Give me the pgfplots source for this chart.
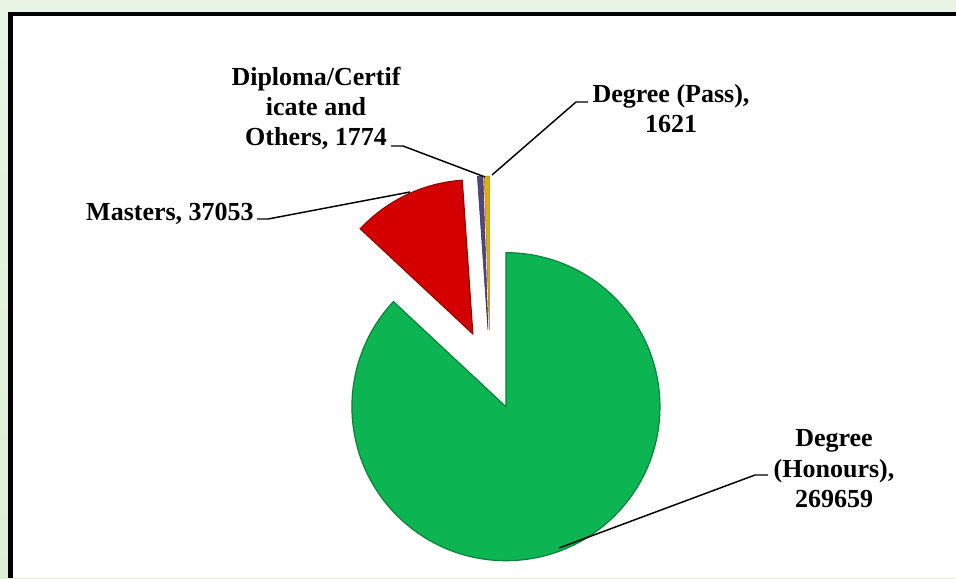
\documentclass[border=0pt]{standalone}
\usepackage{pgfplots}
\pgfplotsset{compat=1.18}
\usepackage{pgfplotstable}
\usepackage{fontspec}
\setmainfont{Liberation Serif}
\usetikzlibrary{calc}
\definecolor{bgtop}{HTML}{EAF4E5}
\definecolor{bgbot}{HTML}{DCEFD5}
\definecolor{cHon}{HTML}{0DB552}
\definecolor{cMas}{HTML}{D40000}
\definecolor{cDip}{HTML}{54457A}
\definecolor{cPas}{HTML}{E6AC00}

\pgfplotstableread[col sep=comma]{
category,value
Degree (Honours),269659
Masters,37053
Diploma/Certificate and Others,1774
Degree (Pass),1621
}\piedata
\pgfplotstablegetelem{0}{value}\of\piedata\edef\vA{\pgfplotsretval}
\pgfplotstablegetelem{1}{value}\of\piedata\edef\vB{\pgfplotsretval}
\pgfplotstablegetelem{2}{value}\of\piedata\edef\vC{\pgfplotsretval}
\pgfplotstablegetelem{3}{value}\of\piedata\edef\vD{\pgfplotsretval}
\edef\tot{\fpeval{\vA+\vB+\vC+\vD}}
\edef\eA{\fpeval{90-360*\vA/\tot}}
\edef\eB{\fpeval{\eA-360*\vB/\tot}}
\edef\eC{\fpeval{\eB-360*\vC/\tot}}
\edef\eD{\fpeval{\eC-360*\vD/\tot}}
\edef\mA{\fpeval{(90+\eA)/2}}
\edef\mB{\fpeval{(\eA+\eB)/2}}
\edef\mC{\fpeval{(\eB+\eC)/2}}
\edef\mD{\fpeval{(\eC+\eD)/2}}
\def\R{115.5pt}
\def\X{30pt}

\begin{document}%
\begin{tikzpicture}[lbl/.style={font=\bfseries\fontsize{19.5}{22}\selectfont, inner sep=0pt, text=black}]
\begin{axis}[
  width=717pt, height=433.5pt, scale only axis,
  xmin=0, xmax=956, ymin=0, ymax=578, y dir=reverse,
  hide axis, clip=true,
]
% background
\fill[top color=bgtop, bottom color=bgbot] (axis cs:0,0) rectangle (axis cs:956,578);
\fill[white] (axis cs:12.5,16) rectangle (axis cs:956,578);
\draw[black, line width=3.4pt] (axis cs:10.5,578) -- (axis cs:10.5,14) -- (axis cs:956,14);
% slices
\fill[cHon, draw=cHon!72!black, line width=0.9pt] ($(axis cs:490,370)+(\mA:\X)$) -- ++(90:\R) arc[start angle=90, end angle=\eA, radius=\R] -- cycle;
\fill[cMas, draw=cMas!72!black, line width=0.9pt] ($(axis cs:490,370)+(\mB:\X)$) -- ++(\eA:\R) arc[start angle=\eA, end angle=\eB, radius=\R] -- cycle;
\fill[cDip, draw=cDip!72!black, line width=0.4pt] ($(axis cs:490,370)+(\mC:\X)$) -- ++(\eB:\R) arc[start angle=\eB, end angle=\eC, radius=\R] -- cycle;
\fill[cPas, draw=cPas!72!black, line width=0.4pt] ($(axis cs:490,370)+(\mD:\X)$) -- ++(\eC:\R) arc[start angle=\eC, end angle=\eD, radius=\R] -- cycle;
% leader lines
\draw[black, line width=1.1pt] (axis cs:257,219) -- (axis cs:268,219) -- (axis cs:410,192);
\draw[black, line width=1.1pt] (axis cs:391,146) -- (axis cs:403,146) -- (axis cs:485,177);
\draw[black, line width=1.1pt] (axis cs:588,102) -- (axis cs:576,102) -- (axis cs:492,175);
\draw[black, line width=1.1pt] (axis cs:768,475) -- (axis cs:755,475) -- (axis cs:559,548);
% labels
\node[lbl, anchor=base east] at (axis cs:254,220) {Masters, 37053};
\node[lbl, anchor=base] at (axis cs:316,85) {Diploma/Certif};
\node[lbl, anchor=base] at (axis cs:316,115) {icate and};
\node[lbl, anchor=base] at (axis cs:316,145) {Others, 1774};
\node[lbl, anchor=base] at (axis cs:671,102) {Degree (Pass),};
\node[lbl, anchor=base] at (axis cs:671,132) {1621};
\node[lbl, anchor=base] at (axis cs:834,446) {Degree};
\node[lbl, anchor=base] at (axis cs:834,477) {(Honours),};
\node[lbl, anchor=base] at (axis cs:834,507) {269659};
\end{axis}
\end{tikzpicture}%
\end{document}
